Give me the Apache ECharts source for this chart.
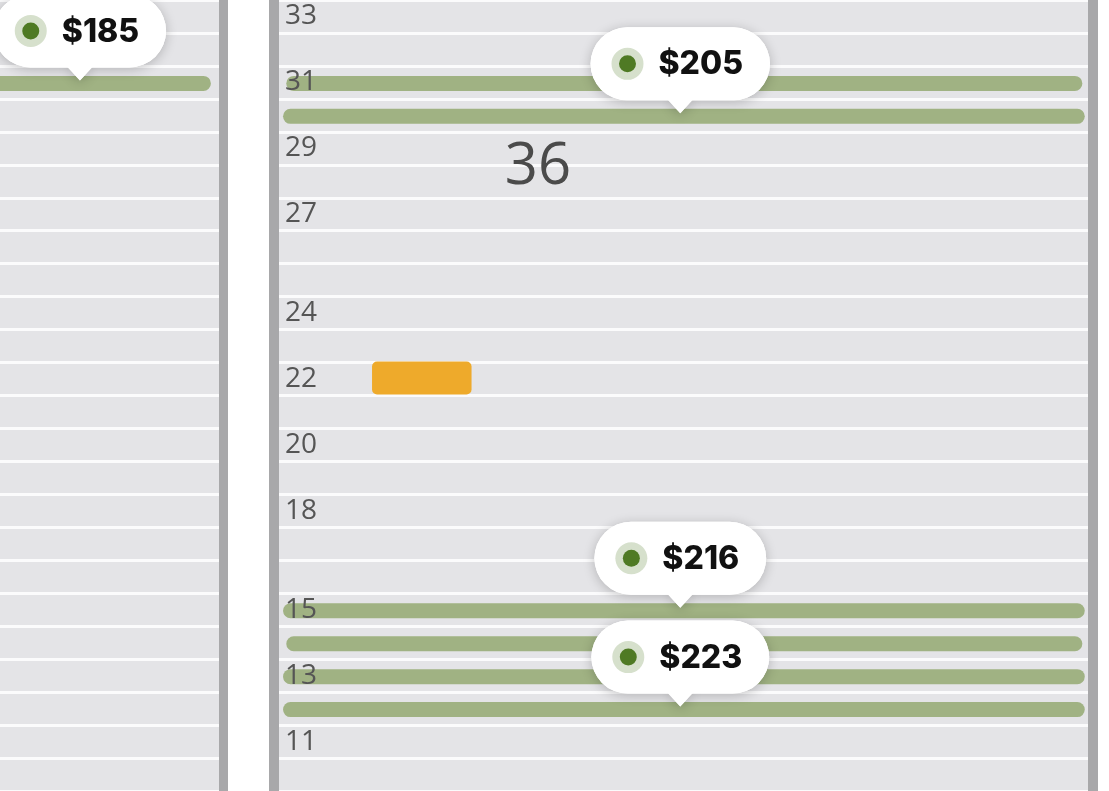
<!DOCTYPE html>
<html>
<head>
<meta charset="utf-8">
<script src="https://cdn.jsdelivr.net/npm/echarts@6/dist/echarts.min.js"></script>
<style>
html, body { margin: 0; padding: 0; background: #fff; }
#main { width: 1109px; height: 791px; }
</style>
</head>
<body>
<div id="main"></div>
<script>
// rows of the section, top to bottom
const rows = ['33','32','31','30','29','28','27','26','25','24','23','22','21','20','19','18','17','16','15','14','13','12','11','10'];
const rowLabels = ['33','31','29','27','24','22','20','18','15','13','11'];
// available runs of seats: [start %, end %, row]
const leftRuns = [[-5, 96.3, '31']];
const rightRuns = [[0.9, 99.3, '31'], [0.5, 99.6, '30'], [0.5, 99.6, '15'], [0.9, 99.3, '14'], [0.5, 99.6, '13'], [0.5, 99.6, '12']];
// selected seat: [start %, end %, row]
const seats = [[11.5, 23.8, '22']];
// price tags: [x %, row, price]
const leftPrices = [[36.5, '31', 185]];
const rightPrices = [[49.6, '30', 205], [49.6, '15', 216], [49.6, '12', 223]];
const sectionName = '36';

const green = '#a0b283';
const panelBg = '#e4e4e7';
const stripColor = '#a8a8aa';
const priceFont = '800 32px Inter';

let ctx = document.createElement('canvas').getContext('2d');
let textWidth = function (s) {
    ctx.font = priceFont;
    return ctx.measureText(s).width;
};

let renderRun = function (params, api) {
    let a = api.coord([api.value(0), api.value(2)]);
    let b = api.coord([api.value(1), api.value(2)]);
    let h = 15;
    return {
        type: 'rect',
        shape: { x: a[0], y: a[1] - h / 2 + 1, width: b[0] - a[0], height: h, r: h / 2 },
        style: { fill: green }
    };
};

let renderSeat = function (params, api) {
    let a = api.coord([api.value(0), api.value(2)]);
    let b = api.coord([api.value(1), api.value(2)]);
    let h = api.size([0, 1])[1];
    return {
        type: 'rect',
        shape: { x: a[0], y: a[1] - h / 2 - 1, width: b[0] - a[0], height: h, r: 5 },
        style: { fill: '#eeaa2b' }
    };
};

let renderPrice = function (params, api) {
    let p = api.coord([api.value(0), api.value(1)]);
    let label = '$' + api.value(2);
    let w = 68 + textWidth(label) + 27;
    let h = 73, tail = 13;
    let tipY = p[1] - 2;
    let y1 = tipY - tail, y0 = y1 - h;
    let x0 = p[0] - w / 2;
    let tailPts = [[p[0] - 13, y1 - 1], [p[0], tipY], [p[0] + 13, y1 - 1]];
    let shadow = { shadowBlur: 12, shadowColor: 'rgba(0,0,0,0.22)', shadowOffsetY: 2 };
    return {
        type: 'group',
        children: [
            { type: 'polygon', shape: { points: tailPts }, style: Object.assign({ fill: '#fff' }, shadow) },
            { type: 'rect', shape: { x: x0, y: y0, width: w, height: h, r: h / 2 }, style: Object.assign({ fill: '#fff' }, shadow) },
            { type: 'polygon', shape: { points: tailPts }, style: { fill: '#fff' } },
            { type: 'rect', shape: { x: x0, y: y0, width: w, height: h, r: h / 2 }, style: { fill: '#fff' } },
            { type: 'circle', shape: { cx: x0 + 37, cy: y0 + h / 2, r: 16 }, style: { fill: '#d6e0cc' } },
            { type: 'circle', shape: { cx: x0 + 37, cy: y0 + h / 2, r: 8.5 }, style: { fill: '#4f7a24' } },
            {
                type: 'text',
                x: x0 + 68,
                y: y0 + h / 2 + 1,
                style: { text: label, font: priceFont, fill: '#111', align: 'left', verticalAlign: 'middle' }
            }
        ]
    };
};

let chart = echarts.init(document.getElementById('main'));

let splitAxis = function (gridIndex) {
    return {
        gridIndex: gridIndex,
        type: 'category',
        position: 'left',
        inverse: true,
        data: rows,
        axisLine: { show: false },
        axisTick: { show: false },
        axisLabel: { show: false },
        splitLine: { show: true, interval: 0, lineStyle: { color: '#fbfbfc', width: 3 } }
    };
};

chart.setOption({
    animation: false,
    backgroundColor: '#fff',
    grid: [
        { left: 0, top: 0, width: 219, height: 792, show: true, backgroundColor: panelBg, borderWidth: 0 },
        { left: 279, top: 0, width: 809, height: 792, show: true, backgroundColor: panelBg, borderWidth: 0 }
    ],
    xAxis: [
        { gridIndex: 0, type: 'value', min: 0, max: 100, show: false },
        { gridIndex: 1, type: 'value', min: 0, max: 100, show: false }
    ],
    yAxis: [
        splitAxis(0),
        splitAxis(1),
        {
            gridIndex: 1,
            type: 'category',
            position: 'left',
            offset: 0,
            inverse: true,
            data: rows,
            z: 10,
            axisLine: { show: false },
            axisTick: { show: false },
            splitLine: { show: false },
            axisLabel: {
                inside: true,
                interval: 0,
                margin: 6,
                padding: [6, 0, 0, 0],
                color: '#555',
                fontSize: 28,
                fontFamily: 'Open Sans',
                formatter: function (v) { return rowLabels.indexOf(v) === -1 ? '' : v; }
            }
        }
    ],
    graphic: [
        { type: 'rect', shape: { x: 219, y: 0, width: 9, height: 791 }, style: { fill: stripColor }, z: 100 },
        { type: 'rect', shape: { x: 269, y: 0, width: 10, height: 791 }, style: { fill: stripColor }, z: 100 },
        { type: 'rect', shape: { x: 1088, y: 0, width: 10, height: 791 }, style: { fill: stripColor }, z: 100 },
        {
            type: 'text', x: 538, y: 167, z: 100,
            style: {
                text: sectionName, font: '58px "Open Sans"', fill: '#4b4b4b',
                align: 'center', verticalAlign: 'middle',
                shadowColor: '#fff', shadowBlur: 5
            }
        }
    ],
    series: [
        { type: 'custom', xAxisIndex: 0, yAxisIndex: 0, encode: { x: [0, 1], y: 2 }, renderItem: renderRun, data: leftRuns },
        { type: 'custom', xAxisIndex: 1, yAxisIndex: 1, encode: { x: [0, 1], y: 2 }, renderItem: renderRun, data: rightRuns },
        { type: 'custom', xAxisIndex: 1, yAxisIndex: 1, encode: { x: [0, 1], y: 2 }, renderItem: renderSeat, data: seats },
        { type: 'custom', xAxisIndex: 0, yAxisIndex: 0, z: 20, encode: { x: 0, y: 1 }, renderItem: renderPrice, data: leftPrices },
        { type: 'custom', xAxisIndex: 1, yAxisIndex: 1, z: 20, encode: { x: 0, y: 1 }, renderItem: renderPrice, data: rightPrices }
    ]
});
</script>
</body>
</html>
